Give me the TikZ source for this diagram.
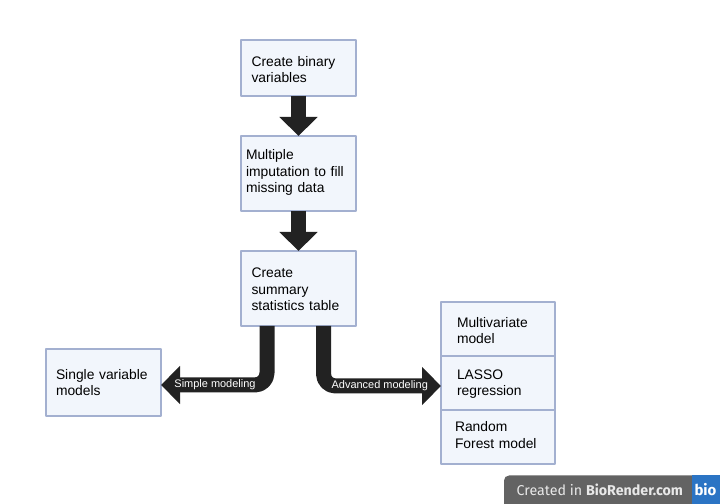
\documentclass[tikz,border=0pt]{standalone}
\usepackage{fontspec}
\setmainfont{Liberation Sans}
\newfontfamily\badgefont{Fira Sans}
\usetikzlibrary{arrows.meta}
\definecolor{boxfill}{HTML}{F2F6FC}
\definecolor{boxline}{HTML}{A3B0D0}
\definecolor{arrowcol}{HTML}{222222}
\definecolor{badgegray}{HTML}{636363}
\definecolor{badgeblue}{HTML}{2B74C4}
\tikzset{
  stepbox/.style={draw=boxline,fill=boxfill,line width=1.1bp,outer sep=0pt,inner ysep=0pt,
    minimum height=#1,align=left,font=\fontsize{13.9}{16.6}\selectfont},
  bigarrow/.style={draw=arrowcol,line width=15bp,-{Triangle[length=19bp,width=37bp]}},
  bandlabel/.style={text=white,inner sep=0pt,font=\fontsize{11}{12}\selectfont},
}
\begin{document}
\begin{tikzpicture}[line join=bevel]
  \useasboundingbox (0,0) rectangle (720bp,504bp);
  % Node: bin
  \node [stepbox=56bp,inner xsep=10.5bp,text width=94bp] (bin) at (298.5bp,436bp) {\rule{0pt}{13bp}Create binary\\variables};
  % Node: imp
  \node [stepbox=75bp,inner xsep=5bp,text width=105bp] (imp) at (298.5bp,330.5bp) {Multiple\\imputation to fill\\missing data\rule[-5bp]{0pt}{5bp}};
  % Node: summary
  \node [stepbox=75bp,inner xsep=10.5bp,text width=94bp] (summary) at (298.5bp,215.5bp) {\rule{0pt}{12bp}Create\\summary\\statistics table};
  % Node: single
  \node [stepbox=67bp,inner xsep=10bp,text width=95bp] (single) at (103.5bp,121.5bp) {Single variable\\models};
  % Node: multi
  \node [stepbox=54bp,inner xsep=16bp,text width=82bp] (multi) at (498bp,175bp) {\rule{0pt}{13bp}Multivariate\\model};
  % Node: lasso
  \node [stepbox=54bp,inner xsep=16bp,text width=82bp] (lasso) at (498bp,121bp) {\rule{0pt}{12bp}LASSO\\regression};
  % Node: forest
  \node [stepbox=54bp,inner xsep=14bp,text width=86bp] (forest) at (498bp,67bp) {Random\\Forest model\rule[-4bp]{0pt}{5bp}};
  % Edge: bin -> imp
  \draw [bigarrow] (bin) -- (imp);
  % Edge: imp -> summary
  \draw [bigarrow] (imp) -- (summary);
  % Edge: summary -> single
  \draw [bigarrow,rounded corners=12bp] ([xshift=-31.5bp]summary.south) |- ([yshift=-2.5bp]single.east) node [pos=0.75,xshift=1bp,bandlabel] (simple) {Simple modeling};
  % Edge: summary -> lasso
  \draw [bigarrow,rounded corners=12bp] ([xshift=25bp]summary.south) |- ([yshift=-3bp]lasso.west) node [pos=0.75,xshift=-2.5bp,bandlabel] (advanced) {Advanced modeling};
  % Badge
  \fill [badgegray] (504bp,0bp) [rounded corners=5bp] -- (504bp,28.5bp) [sharp corners] -- (692bp,28.5bp) -- (692bp,0bp) -- cycle;
  \fill [badgeblue] (691.5bp,0bp) rectangle (720bp,28.5bp);
  \node [text=white!85!badgegray,anchor=base west,inner sep=0pt,font=\badgefont\fontsize{14.3}{15}\selectfont] (created) at (516.5bp,9bp) {Created in \textbf{BioRender.com}};
  \node [text=white,anchor=base,inner sep=0pt,font=\badgefont\bfseries\fontsize{15}{15}\selectfont] (biologo) at (705.5bp,9bp) {bio};
\end{tikzpicture}
\end{document}
